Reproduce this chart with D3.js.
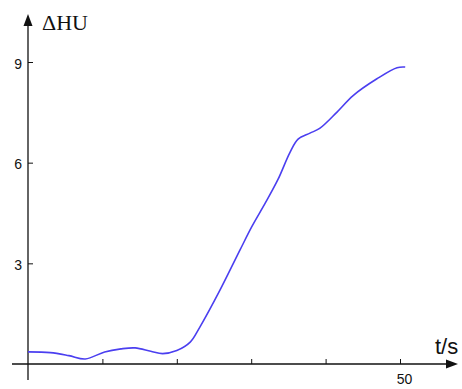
<!DOCTYPE html>
<html>
<head>
<meta charset="utf-8">
<script src="https://cdn.jsdelivr.net/npm/d3@7"></script>
<style>
  body { margin: 0; background: #fff; }
  svg { display: block; }
</style>
</head>
<body>
<svg id="chart" width="462" height="389"></svg>
<script>
// time (s) and delta HU
var timeS = [0, 3, 5.5, 7.7, 10.3, 12.5, 14.4, 16.5, 18.1, 20, 21.8, 23.1, 25.8, 28.5, 30.1, 31.9, 33.6, 35.2, 36.3, 37.9, 39.2, 41.5, 43.7, 46.9, 49.6, 50.7];
var deltaHU = [0.36, 0.34, 0.25, 0.15, 0.36, 0.45, 0.48, 0.38, 0.31, 0.4, 0.65, 1.1, 2.2, 3.4, 4.1, 4.8, 5.5, 6.3, 6.7, 6.88, 7.02, 7.5, 8.0, 8.5, 8.83, 8.85];
var xTicks = [10, 20, 30, 40, 50];
var yTicks = [3, 6, 9];

var svg = d3.select("#chart");
var x = d3.scaleLinear().domain([0, 50]).range([28, 400]);
var y = d3.scaleLinear().domain([0, 9]).range([364, 62]);

// axes lines with arrows
svg.append("line").attr("x1", 12).attr("x2", 452).attr("y1", y(0)).attr("y2", y(0))
    .attr("stroke", "#111").attr("stroke-width", 1.3);
svg.append("path").attr("d", "M458," + y(0) + "L446," + (y(0) - 4.5) + "L446," + (y(0) + 4.5) + "Z")
    .attr("fill", "#111");
svg.append("line").attr("x1", x(0)).attr("x2", x(0)).attr("y1", 380).attr("y2", 22)
    .attr("stroke", "#111").attr("stroke-width", 1.3);
svg.append("path").attr("d", "M" + x(0) + ",14L" + (x(0) - 4.5) + ",26L" + (x(0) + 4.5) + ",26Z")
    .attr("fill", "#111");

var xAxis = d3.axisBottom(x).tickValues(xTicks).tickSize(-5).tickPadding(10)
    .tickFormat(function (d) { return d === 50 ? d : ""; });
var gx = svg.append("g").attr("transform", "translate(0," + y(0) + ")").call(xAxis);
gx.select(".domain").remove();
gx.selectAll(".tick line").attr("stroke", "#111");
gx.selectAll(".tick text").attr("font-family", "Liberation Sans, Arial, sans-serif")
    .attr("font-size", 14).attr("fill", "#111").attr("dx", 4);

var yAxis = d3.axisLeft(y).tickValues(yTicks).tickSize(-5).tickPadding(6);
var gy = svg.append("g").attr("transform", "translate(" + x(0) + ",0)").call(yAxis);
gy.select(".domain").remove();
gy.selectAll(".tick line").attr("stroke", "#111");
gy.selectAll(".tick text").attr("font-family", "Liberation Sans, Arial, sans-serif")
    .attr("font-size", 14).attr("fill", "#111").attr("dy", "0.45em");

// labels
svg.append("text").attr("x", 42).attr("y", 30).text("ΔHU")
    .attr("font-family", "Liberation Serif, Times New Roman, serif").attr("font-size", 22).attr("fill", "#111");
svg.append("text").attr("x", 435).attr("y", 354).text("t/s")
    .attr("font-family", "Liberation Sans, Arial, sans-serif").attr("font-size", 22).attr("fill", "#111");

// curve
var line = d3.line()
    .x(function (d, i) { return x(timeS[i]); })
    .y(function (d) { return y(d); })
    .curve(d3.curveCatmullRom.alpha(0.5));
svg.append("path").datum(deltaHU).attr("d", line)
    .attr("fill", "none").attr("stroke", "#4b3ff0").attr("stroke-width", 1.6);
</script>
</body>
</html>
